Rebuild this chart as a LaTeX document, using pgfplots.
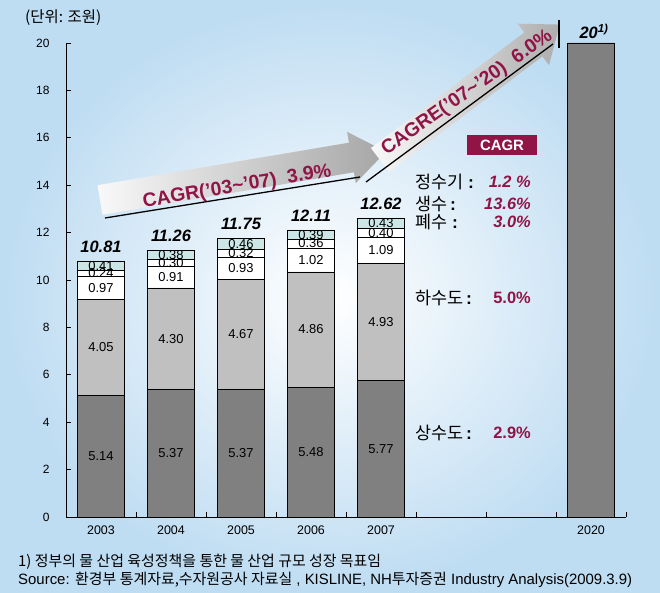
\documentclass[border=0pt]{standalone}
\usepackage{pgfplots}
\pgfplotsset{compat=1.18}
\usepackage{pgfplotstable}
\usepackage{fontspec}
\setmainfont{Liberation Sans}
\newfontfamily\kr{Noto Sans CJK KR}
\definecolor{sang}{HTML}{808080}
\definecolor{ha}{HTML}{C0C0C0}
\definecolor{jung}{HTML}{CCE6E6}
\definecolor{cred}{RGB}{145,20,70}
\definecolor{bgblue}{RGB}{190,220,242}

\pgfplotstableread{
x y lab
0 2.57 5.14
0 7.165 4.05
0 9.675 0.97
0 10.28 0.24
0 10.605 0.41
1 2.685 5.37
1 7.52 4.30
1 10.125 0.91
1 10.73 0.30
1 11.07 0.38
2 2.685 5.37
2 7.705 4.67
2 10.505 0.93
2 11.13 0.32
2 11.52 0.46
3 2.74 5.48
3 7.91 4.86
3 10.85 1.02
3 11.54 0.36
3 11.915 0.39
4 2.885 5.77
4 8.235 4.93
4 11.245 1.09
4 11.99 0.40
4 12.405 0.43
}\seglabels

\pgfplotstableread{
x y lab
0 10.81 10.81
1 11.26 11.26
2 11.75 11.75
3 12.11 12.11
4 12.62 12.62
}\totals

\newcommand{\twentylab}{20\textsuperscript{1)}}

\begin{document}
\begin{tikzpicture}[x=1bp,y=1bp]
\shade[inner color=white, outer color=bgblue] (0,0) rectangle (660,593);
\useasboundingbox (0,0) rectangle (660,593);

% arrows (decorative)
\begin{scope}[shift={(100,393)}, rotate=9.6]
  \shade[left color=white!95!gray, right color=black!35] (0,-15) -- (255,-15) -- (255,-26) -- (290,0) -- (255,26) -- (255,15) -- (0,15) -- cycle;
\end{scope}
\begin{scope}[shift={(380,433)}, rotate=37]
  \shade[left color=white!95!gray, right color=black!32] (0,-15) -- (192,-15) -- (192,-26) -- (225,0) -- (192,26) -- (192,15) -- (0,15) -- cycle;
\end{scope}
\draw[line width=1.3pt] (105,375) -- (360,416);
\draw[line width=1.3pt] (366,411) -- (553,549);
\draw[line width=1.3pt] (559,573) -- (559,545);

\begin{axis}[
  at={(66bp,76bp)}, anchor=south west,
  scale only axis, width=560bp, height=474bp,
  xmin=-0.5, xmax=7.5, ymin=0, ymax=20,
  ybar stacked, bar width=47bp,
  axis x line*=bottom, axis y line*=left,
  axis line style={-, black, line width=0.9pt},
  xtick={0.5,1.5,...,7.5}, xticklabels={},
  extra x ticks={0,1,2,3,4,7},
  extra x tick labels={2003,2004,2005,2006,2007,2020},
  extra x tick style={major tick length=0pt},
  ytick={0,2,...,20},
  tick align=inside, major tick length=5bp,
  tick style={black, line width=0.7pt},
  /pgf/number format/assume math mode=true,
  yticklabel style={font=\fontsize{12}{14}\selectfont, xshift=-13bp},
  xticklabel style={font=\fontsize{12.5}{14}\selectfont, yshift=-5bp},
  clip=false,
]
\addplot[fill=sang, draw=black, line width=0.5pt] coordinates {(0,5.14) (1,5.37) (2,5.37) (3,5.48) (4,5.77) (7,20)};
\addplot[fill=ha, draw=black, line width=0.5pt] coordinates {(0,4.05) (1,4.30) (2,4.67) (3,4.86) (4,4.93)};
\addplot[fill=white, draw=black, line width=0.5pt] coordinates {(0,0.97) (1,0.91) (2,0.93) (3,1.02) (4,1.09)};
\addplot[fill=white, draw=black, line width=0.5pt] coordinates {(0,0.24) (1,0.30) (2,0.32) (3,0.36) (4,0.40)};
\addplot[fill=jung, draw=black, line width=0.5pt] coordinates {(0,0.41) (1,0.38) (2,0.46) (3,0.39) (4,0.43)};
\end{axis}

\begin{axis}[
  at={(66bp,76bp)}, anchor=south west,
  scale only axis, width=560bp, height=474bp,
  xmin=-0.5, xmax=7.5, ymin=0, ymax=20,
  hide axis, clip=false,
]
\addplot[draw=none, mark=none, nodes near coords, point meta=explicit symbolic,
  every node near coord/.append style={anchor=center, inner sep=0pt, font=\fontsize{13}{14}\selectfont}]
  table[x=x, y=y, meta=lab] {\seglabels};
\addplot[draw=none, mark=none, nodes near coords, point meta=explicit symbolic,
  every node near coord/.append style={anchor=south, yshift=5bp, font=\fontsize{16.5}{18}\selectfont\bfseries\itshape}]
  table[x=x, y=y, meta=lab] {\totals};
\addplot[draw=none, mark=none, nodes near coords, point meta=explicit symbolic,
  every node near coord/.append style={anchor=south, xshift=3bp, yshift=1bp, font=\fontsize{16.5}{18}\selectfont\bfseries\itshape}]
  coordinates {(7,20) [\twentylab]};
\end{axis}

% arrow texts
\node[rotate=9.4, text=cred, font=\fontsize{19.5}{22}\selectfont\bfseries] at (237,406) {CAGR(’03\textasciitilde’07)\ \ 3.9\%};
\node[rotate=35, text=cred, font=\fontsize{19.5}{22}\selectfont\bfseries] at (467,500) {CAGRE(’07\textasciitilde’20)\ \ 6.0\%};

% CAGR box
\node[fill=cred, text=white, font=\fontsize{15}{16}\selectfont\bfseries, minimum width=70bp, minimum height=20bp, inner sep=0] at (502,448) {CAGR};

% right annotations
\node[anchor=west, inner sep=0] at (415,411) {\fontsize{17.5}{19}\selectfont{\kr 정수기} \textbf{:}};
\node[anchor=east, inner sep=0, text=cred] at (531,411) {\fontsize{16.5}{18}\selectfont\bfseries\itshape 1.2\ \%};
\node[anchor=west, inner sep=0] at (415,389) {\fontsize{17.5}{19}\selectfont{\kr 생수}\,\textbf{:}};
\node[anchor=east, inner sep=0, text=cred] at (531,389) {\fontsize{16.5}{18}\selectfont\bfseries\itshape 13.6\%};
\node[anchor=west, inner sep=0] at (415,371) {\fontsize{17.5}{19}\selectfont{\kr 폐수} \textbf{:}};
\node[anchor=east, inner sep=0, text=cred] at (531,371) {\fontsize{16.5}{18}\selectfont\bfseries\itshape 3.0\%};
\node[anchor=west, inner sep=0] at (415,295) {\fontsize{17.5}{19}\selectfont{\kr 하수도}\,\textbf{:}};
\node[anchor=east, inner sep=0, text=cred] at (531,295) {\fontsize{16.5}{18}\selectfont\bfseries 5.0\%};
\node[anchor=west, inner sep=0] at (415,160) {\fontsize{17.5}{19}\selectfont{\kr 상수도}\,\textbf{:}};
\node[anchor=east, inner sep=0, text=cred] at (531,160) {\fontsize{16.5}{18}\selectfont\bfseries 2.9\%};

% unit and footnotes
\node[anchor=west, inner sep=0] at (25,575) {\fontsize{15.5}{17}\selectfont\kr (단위: 조원)};
\node[anchor=west, inner sep=0] at (18,31) {\fontsize{15}{17}\selectfont\kr 1) 정부의 물 산업 육성정책을 통한 물 산업 규모 성장 목표임};
\node[anchor=west, inner sep=0] at (18,13) {\fontsize{15}{17}\selectfont Source: {\kr 환경부 통계자료,수자원공사 자료실} , KISLINE, NH{\kr 투자증권} Industry Analysis(2009.3.9)};
\end{tikzpicture}
\end{document}
